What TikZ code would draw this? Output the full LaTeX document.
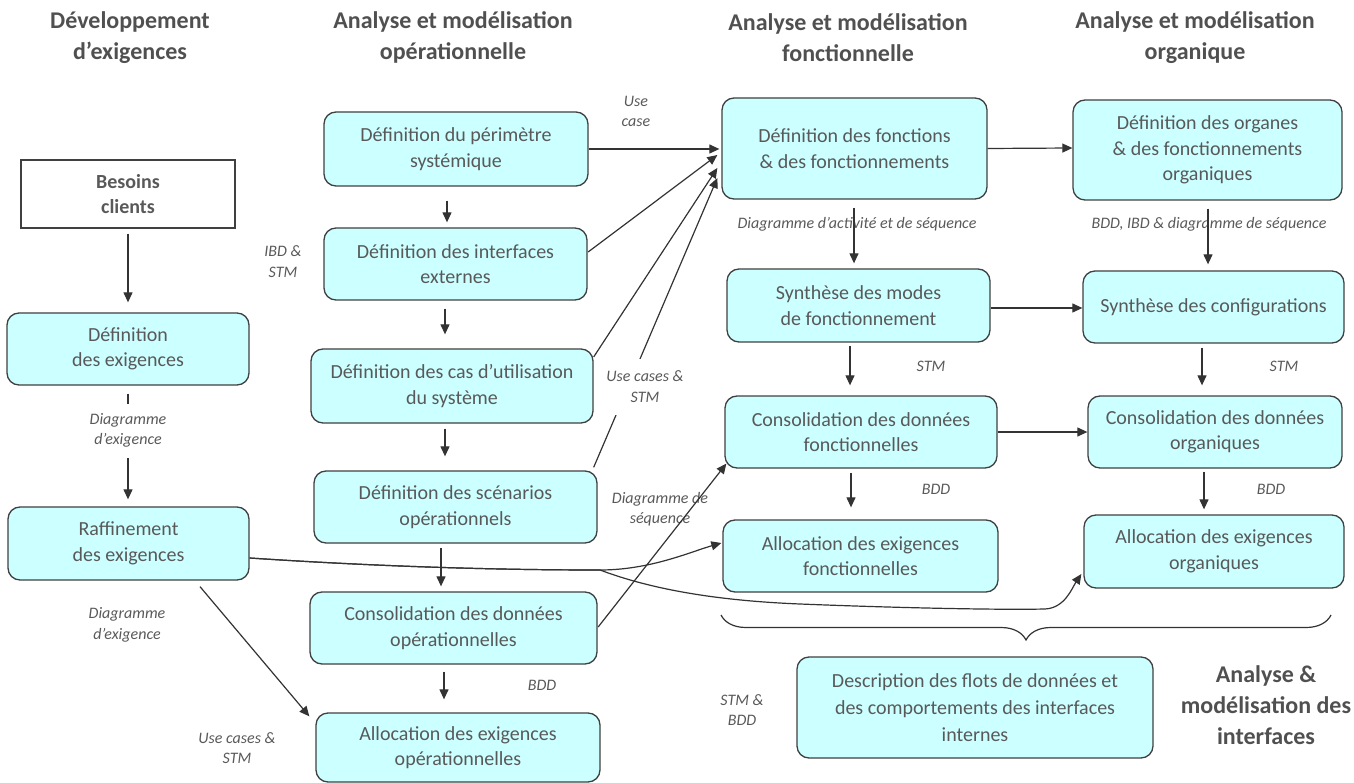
\documentclass[tikz,border=0pt]{standalone}
\usepackage{fontspec}
\setmainfont{Carlito}
\usetikzlibrary{arrows.meta,calc,decorations.pathreplacing}
\definecolor{boxfill}{HTML}{CCFFFF}
\definecolor{boxline}{HTML}{404040}
\definecolor{txt}{HTML}{595959}
\definecolor{ttlc}{HTML}{505050}
\definecolor{arrowc}{HTML}{333333}
\begin{document}
\begin{tikzpicture}[x=1pt,y=-1pt,
  box/.style={draw=boxline, line width=1.3pt, fill=boxfill, rounded corners=12pt,
    align=center, text=txt, font=\fontsize{20}{25.5}\selectfont, inner sep=0pt},
  plainbox/.style={draw=boxline, line width=1.3pt, fill=white, align=center, text=txt,
    font=\fontsize{20}{25}\selectfont\bfseries, inner sep=0pt},
  ttl/.style={font=\fontsize{24}{31}\selectfont\bfseries, text=ttlc, align=center, inner sep=0pt},
  lbl/.style={font=\fontsize{16}{20.5}\selectfont\itshape, text=txt, align=center, inner sep=0pt},
  arr/.style={draw=arrowc, line width=1.2pt, -{Triangle[length=10pt,width=9pt]}},
  bracestyle/.style={draw=arrowc, line width=1.2pt, decorate,
    decoration={brace, amplitude=25pt, mirror}}
]
\useasboundingbox (0,0) rectangle (1354,783);

% column titles
\node[ttl] (t1) at (130,37.5) {Développement\\d’exigences};
\node[ttl] (t2) at (453,37.5) {Analyse et modélisation\\opérationnelle};
\node[ttl] (t3) at (848,37.5) {Analyse et modélisation\\fonctionnelle};
\node[ttl] (t4) at (1195,37.5) {Analyse et modélisation\\organique};
\node[ttl] (t5) at (1266,705) {Analyse \&\\modélisation des\\interfaces};

% requirements column
\node[plainbox, minimum width=214pt, minimum height=68pt] (besoins) at (128,194) {Besoins\\clients};
\node[box, minimum width=242pt, minimum height=72pt] (defex) at (128,349) {Définition\\des exigences};
\node[box, minimum width=241pt, minimum height=73pt] (raff) at (128.5,543.5) {Raffinement\\des exigences};

% operational column
\node[box, minimum width=264pt, minimum height=74pt] (perim) at (456,149) {Définition du périmètre\\systémique};
\node[box, minimum width=263pt, minimum height=72pt] (interf) at (455.5,264) {Définition des interfaces\\externes};
\node[box, minimum width=282pt, minimum height=74pt] (cas) at (452,386) {Définition des cas d’utilisation\\du système};
\node[box, minimum width=283pt, minimum height=72pt] (scen) at (455.5,507) {Définition des scénarios\\opérationnels};
\node[box, minimum width=287pt, minimum height=72pt] (consop) at (453.5,628) {Consolidation des données\\opérationnelles};
\node[box, minimum width=284pt, minimum height=69pt] (allocop) at (458,747.5) {Allocation des exigences\\opérationnelles};

% functional column
\node[box, minimum width=265pt, minimum height=101pt] (fonct) at (854.5,148.5) {Définition des fonctions\\\& des fonctionnements};
\node[box, minimum width=263pt, minimum height=73pt] (modes) at (858.5,305.5) {Synthèse des modes\\de fonctionnement};
\node[box, minimum width=272pt, minimum height=72pt] (consf) at (861,432) {Consolidation des données\\fonctionnelles};
\node[box, minimum width=275pt, minimum height=72pt] (allocf) at (860.5,556) {Allocation des exigences\\fonctionnelles};

% organic column
\node[box, minimum width=269pt, minimum height=100pt] (organes) at (1207.5,150) {Définition des organes\\\& des fonctionnements\\organiques};
\node[box, minimum width=261pt, minimum height=72pt] (configs) at (1213.5,307) {Synthèse des configurations};
\node[box, minimum width=254pt, minimum height=72pt] (conso) at (1215,432) {Consolidation des données\\organiques};
\node[box, minimum width=260pt, minimum height=73pt] (alloco) at (1214,551.5) {Allocation des exigences\\organiques};

% interfaces
\node[box, minimum width=356pt, minimum height=101pt, font=\fontsize{20}{27}\selectfont] (descr) at (975,707.5) {Description des flots de données et\\des comportements des interfaces\\internes};

% labels drawn under the connectors
\node[lbl] (lusecase) at (636,111.5) {Use\\case};
\node[lbl] (libd) at (283,261.5) {IBD \&\\STM};
\node[lbl] (lseq) at (660,509) {Diagramme de\\séquence};
\node[lbl] (lexig2) at (127,625) {Diagramme\\d’exigence};
\node[lbl] (luc2) at (237,748) {Use cases \&\\STM};
\node[lbl] (lbdd1) at (542,685) {BDD};
\node[lbl] (lact) at (857,224) {Diagramme d’activité et de séquence};
\node[lbl] (lbddibd) at (1209,224) {BDD, IBD \& diagramme de séquence};
\node[lbl] (lstm1) at (931,366) {STM};
\node[lbl] (lstm2) at (1284,366) {STM};
\node[lbl] (lbdd2) at (936,489) {BDD};
\node[lbl] (lbdd3) at (1271,489) {BDD};
\node[lbl] (lstmbdd) at (742,710) {STM \&\\BDD};

% vertical flow, requirements
\draw[arr] ($(besoins.south)+(0,5)$) -- ($(defex.north)+(0,-10)$);
\draw[arr] ($(defex.south)+(0,8)$) -- ($(raff.north)+(-0.5,-7)$);

% vertical flow, operational
\draw[arr] ($(perim.south)+(-9,14)$) -- ($(interf.north)+(-8.5,-5)$);
\draw[arr] ($(interf.south)+(-10.5,8)$) -- ($(cas.north)+(-7,-14)$);
\draw[arr] ($(cas.south)+(-7,5)$) -- ($(scen.north)+(-10.5,-14)$);
\draw[arr] ($(scen.south)+(-14.5,4)$) -- ($(consop.north)+(-12.5,-5)$);
\draw[arr] ($(consop.south)+(-9.5,7)$) -- ($(allocop.north)+(-14,-13)$);

% vertical flow, functional
\draw[arr] ($(fonct.south)+(-0.5,8)$) -- ($(modes.north)+(-4.5,-5)$);
\draw[arr] ($(modes.south)+(-8.5,3)$) -- ($(consf.north)+(-11,-10)$);
\draw[arr] ($(consf.south)+(-10,4)$) -- ($(allocf.north)+(-9.5,-12)$);

% vertical flow, organic
\draw[arr] ($(organes.south)+(0.5,8)$) -- ($(configs.north)+(-5.5,-6)$);
\draw[arr] ($(configs.south)+(-11.5,4)$) -- ($(conso.north)+(-13,-10)$);
\draw[arr] ($(conso.south)+(-11,3)$) -- ($(alloco.north)+(-10,-5)$);

% functional to organic
\draw[arr] (fonct.east) -- ($(organes.west)+(0,-2)$);
\draw[arr] ($(modes.east)+(0,2.5)$) -- ($(configs.west)+(0,1)$);
\draw[arr] (consf.east) -- (conso.west);

% operational to functional
\draw[arr] (perim.east) -- ($(fonct.west)+(-2,0.5)$);
\draw[arr] ($(interf.east)+(0.5,-12)$) -- ($(fonct.west)+(-4,6.5)$);
\draw[arr] ($(cas.east)+(0,-29)$) -- ($(fonct.west)+(-4,19.5)$);
\draw[arr] ($(scen.north east)+(-4,-3)$) -- ($(fonct.west)+(-4,29.5)$);
\draw[arr] ($(consop.east)+(0.5,-1)$) -- ($(consf.south west)+(2,-5)$);

% requirement refinement
\draw[arr] ($(raff.south)+(71.5,6)$) -- ($(allocop.north west)+(-6,4)$);
\draw[arr] ($(raff.east)+(0,14.5)$) .. controls (400,568) and (520,570) .. (600,570)
  .. controls (650,570) and (690,552) .. ($(allocf.west)+(-1,-13)$);
\draw[arr] ($(raff.east)+(0,14.5)$) .. controls (400,568) and (520,570) .. (600,570)
  .. controls (640,585) and (700,600) .. (800,604)
  .. controls (900,608) and (1000,610) .. (1045,609)
  .. controls (1065,608) and (1072,588) .. ($(alloco.west)+(-2,22.5)$);

% labels that interrupt connectors
\node[lbl, fill=white, minimum height=54pt, inner xsep=4pt] (lexig1) at (128,430.5) {Diagramme\\d’exigence};
\node[lbl, fill=white, minimum height=56pt, inner xsep=3pt] (luc1) at (645,386.5) {Use cases \&\\STM};

% brace over the functional and organic columns
\coordinate (bl) at (721,615);
\coordinate (br) at (1331,615);
\draw[bracestyle] (bl) -- (br);
\end{tikzpicture}
\end{document}
